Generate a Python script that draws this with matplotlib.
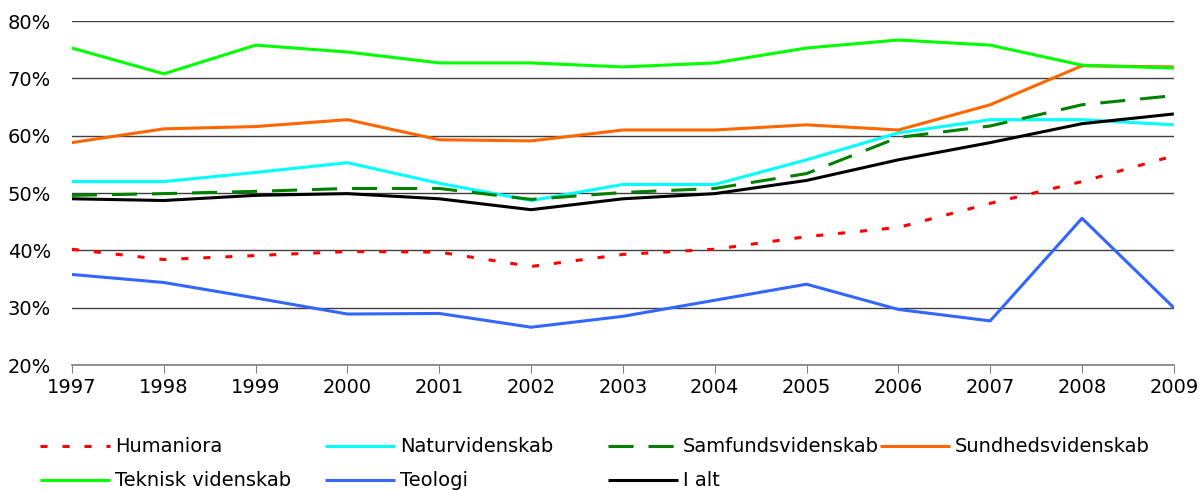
import matplotlib
matplotlib.use('Agg')
import matplotlib.pyplot as plt
from matplotlib.lines import Line2D
from matplotlib.ticker import PercentFormatter

plt.rcParams['font.family'] = ['DejaVu Sans']

years = list(range(1997, 2010))

humaniora = [40.2, 38.4, 39.1, 39.8, 39.7, 37.2, 39.3, 40.2, 42.4, 44.0, 48.2, 52.0, 56.5]
naturvidenskab = [52.0, 52.0, 53.6, 55.3, 51.7, 48.7, 51.5, 51.5, 55.8, 60.5, 62.8, 62.8, 61.9]
samfundsvidenskab = [49.6, 49.9, 50.3, 50.8, 50.8, 48.9, 50.1, 50.8, 53.4, 59.7, 61.7, 65.4, 67.0]
sundhedsvidenskab = [58.8, 61.2, 61.6, 62.8, 59.3, 59.1, 61.0, 61.0, 61.9, 61.0, 65.4, 72.2, 72.0]
teknisk_videnskab = [75.3, 70.8, 75.8, 74.6, 72.7, 72.7, 72.0, 72.7, 75.3, 76.7, 75.8, 72.3, 71.8]
teologi = [35.8, 34.4, 31.7, 28.9, 29.0, 26.6, 28.5, 31.3, 34.1, 29.7, 27.7, 45.6, 30.0]
i_alt = [49.0, 48.7, 49.6, 49.9, 49.0, 47.1, 49.0, 49.9, 52.2, 55.8, 58.8, 62.1, 63.8]

series = [
    ('Humaniora', humaniora, '#FF0000', (0, (2.3, 4.9))),
    ('Naturvidenskab', naturvidenskab, '#00FFFF', '-'),
    ('Samfundsvidenskab', samfundsvidenskab, '#008000', (0, (8.2, 4.9))),
    ('Sundhedsvidenskab', sundhedsvidenskab, '#FF6600', '-'),
    ('Teknisk videnskab', teknisk_videnskab, '#00FF00', '-'),
    ('Teologi', teologi, '#3366FF', '-'),
    ('I alt', i_alt, '#000000', '-'),
]

fig = plt.figure(figsize=(11.99, 4.9), dpi=100)
ax = fig.add_axes([0.060, 0.255, 0.919, 0.702])

for name, vals, color, ls in series:
    ax.plot(years, vals, color=color, linestyle=ls, lw=2.2, label=name,
            solid_capstyle='butt', dash_capstyle='butt')

ax.set_xlim(1997, 2009)
ax.set_ylim(20, 80)
ax.set_yticks(range(20, 81, 10))
ax.set_xticks(years)
ax.yaxis.set_major_formatter(PercentFormatter(decimals=0))
ax.grid(axis='y', color='#404040', lw=1)
ax.set_axisbelow(True)
for s in ['top', 'right', 'left']:
    ax.spines[s].set_visible(False)
ax.spines['bottom'].set_color('#808080')
ax.spines['bottom'].set_linewidth(1.2)
ax.tick_params(axis='y', length=0, pad=15, labelsize=14)
ax.tick_params(axis='x', length=6, direction='out', color='#808080', labelsize=14, pad=3)

# legend laid out in equal-width columns like the original
col_x = [40, 325, 608, 880]
row_y = [446, 480]
W, H = 1199, 490
for i, (name, vals, color, ls) in enumerate(series):
    r, c = divmod(i, 4)
    x0 = col_x[c]
    y = 1 - row_y[r] / H
    fig.add_artist(Line2D([x0 / W, (x0 + 70) / W], [y, y], color=color, linestyle=ls,
                          lw=2.2, transform=fig.transFigure,
                          solid_capstyle='butt', dash_capstyle='butt'))
    fig.text((x0 + 75) / W, y, name, fontsize=14, va='center', ha='left')

fig.savefig('out.png', dpi=100)
